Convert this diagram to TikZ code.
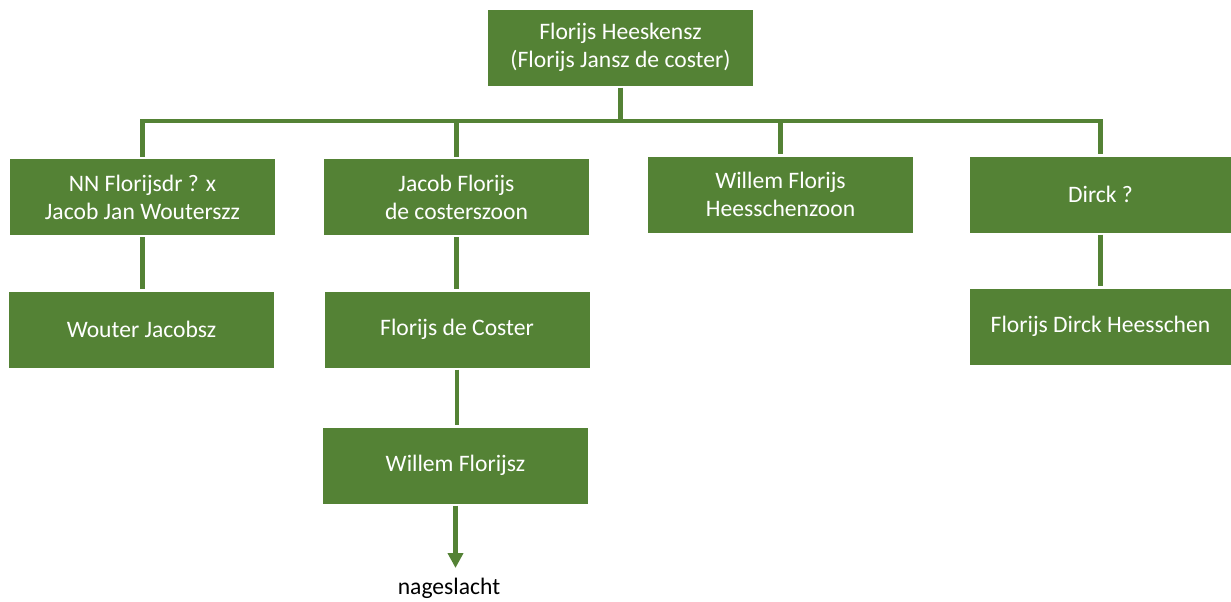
\documentclass[tikz,border=0pt]{standalone}
\usepackage{fontspec}
\setmainfont{Carlito}
\usepackage{tikz}
\usetikzlibrary{arrows.meta}
\definecolor{famgreen}{RGB}{84,130,53}

\begin{document}
\begin{tikzpicture}[x=0.5pt,y=-0.5pt, % pixel grid, y down
	>={Triangle[length=7.5pt,width=7.5pt]}, % arrow head style
	line width=2.2pt, draw=famgreen, % connector style
	every node/.style={rectangle,fill=famgreen,text=white,align=center,
		inner sep=0pt,minimum width=132.5pt,minimum height=38pt,
		font=\fontsize{11.8}{14}\selectfont}]
	\useasboundingbox (0,0) rectangle (1231,601);

	\node (ftop) at (620.5,47.5)	{Florijs Heeskensz\\(Florijs Jansz de coster)};
	\node (fnn) at (142.5,197)		{NN Florijsdr ? x\\Jacob Jan Wouterszz};
	\node (fjacob) at (456.5,197)	{Jacob Florijs\\de costerszoon};
	\node (fwillem) at (780.5,194.5)	{Willem Florijs\\Heesschenzoon};
	\node[minimum width=130.5pt] (fdirck) at (1100.5,194.5)	{Dirck ?};
	\node (fwouter) at (141.5,329.5)	{Wouter Jacobsz};
	\node (fcoster) at (457,329.5)	{Florijs de Coster};
	\node (fwflorijsz) at (455.5,465.5)	{Willem Florijsz};
	\node[minimum width=130.5pt] (fdheesschen) at (1100.5,326.5)	{Florijs Dirck Heesschen};
	\node[fill=none,text=black,minimum width=0pt,minimum height=0pt] (fnage) at (449,588)	{nageslacht};

	\coordinate (hub) at (620.5,121);
	\coordinate (tip) at (455.5,568);

	\draw (ftop)--(hub);
	\draw (hub) -| (fnn.north);
	\draw (hub) -| (fjacob.north);
	\draw (hub) -| (fwillem.north);
	\draw (hub) -| (fdirck.north);
	\draw (fnn.south)--(fnn.south |- fwouter.north);
	\draw (fjacob.south)--(fjacob.south |- fcoster.north);
	\draw (fcoster.south)--(fcoster.south |- fwflorijsz.north);
	\draw (fdirck)--(fdheesschen);
	\draw[->] (fwflorijsz)--(tip);

\end{tikzpicture}
\end{document}
